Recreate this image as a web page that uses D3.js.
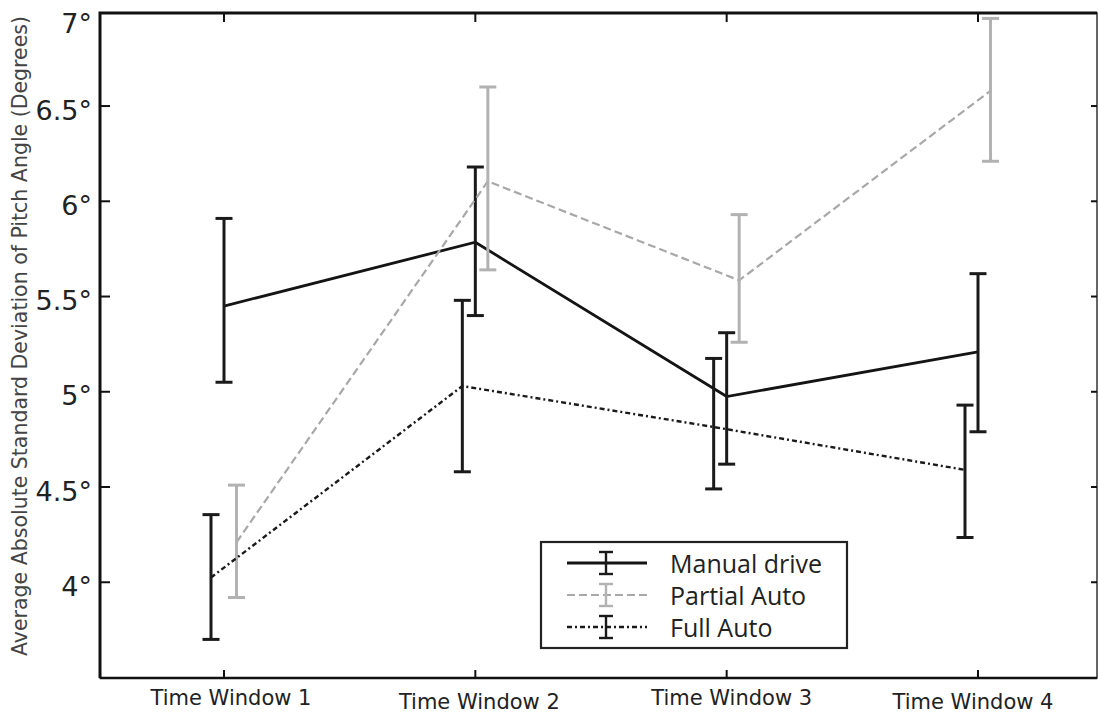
<!DOCTYPE html>
<html>
<head>
<meta charset="utf-8">
<script src="https://cdn.jsdelivr.net/npm/d3@7"></script>
<style>
  body { margin: 0; background: #fff; }
  svg { display: block; }
</style>
</head>
<body>
<div id="chart"></div>
<script>
// DATA
const categories = ["Time Window 1", "Time Window 2", "Time Window 3", "Time Window 4"];
const manualMean = [5.45, 5.785, 4.975, 5.21];
const manualLow = [5.05, 5.40, 4.62, 4.79];
const manualHigh = [5.91, 6.18, 5.31, 5.62];
const partialMean = [4.21, 6.105, 5.585, 6.58];
const partialLow = [3.92, 5.64, 5.26, 6.21];
const partialHigh = [4.51, 6.60, 5.93, 6.96];
const fullMean = [4.025, 5.03, 4.815, 4.59];
const fullLow = [3.70, 4.58, 4.49, 4.235];
const fullHigh = [4.355, 5.48, 5.175, 4.93];
const yTicks = [4, 4.5, 5, 5.5, 6, 6.5, 7];

const W = 1099, H = 713;
const frame = { left: 100, right: 1097, top: 13, bottom: 678 };

const svg = d3.select("#chart").append("svg")
    .attr("width", W)
    .attr("height", H);

const xScale = d3.scaleLinear().domain([1, 4]).range([224, 978]);
const yScale = d3.scaleLinear().domain([3.5, 7]).range([677.5, 10.8]);

const series = [
    { name: "Manual drive", mean: manualMean, low: manualLow, high: manualHigh,
      color: "#141414", bar: "#1a1a1a", width: 2.8, dash: null, shift: 0 },
    { name: "Partial Auto", mean: partialMean, low: partialLow, high: partialHigh,
      color: "#a8a8a8", bar: "#b2b2b2", width: 2.2, dash: "8,4", shift: 12.5 },
    { name: "Full Auto", mean: fullMean, low: fullLow, high: fullHigh,
      color: "#1a1a1a", bar: "#1a1a1a", width: 2.4, dash: "5,3,2,3", shift: -13 }
];

// FRAME
svg.append("rect")
    .attr("x", frame.left).attr("y", frame.top)
    .attr("width", frame.right - frame.left)
    .attr("height", frame.bottom - frame.top)
    .attr("fill", "none")
    .attr("stroke", "#333")
    .attr("stroke-width", 1.5);
svg.append("path")
    .attr("d", `M${frame.left},${frame.bottom}V${frame.top}H${frame.right}`)
    .attr("fill", "none").attr("stroke", "#111").attr("stroke-width", 3);
svg.append("line")
    .attr("x1", frame.left).attr("x2", frame.right)
    .attr("y1", frame.bottom).attr("y2", frame.bottom)
    .attr("stroke", "#111").attr("stroke-width", 2.5);

// TICKS (inside)
const yT = yTicks.filter(v => v < 7);
svg.selectAll(".ytick-l").data(yT).enter().append("line")
    .attr("x1", frame.left).attr("x2", frame.left + 10)
    .attr("y1", d => yScale(d)).attr("y2", d => yScale(d))
    .attr("stroke", "#111").attr("stroke-width", 2);
svg.selectAll(".ytick-r").data(yT).enter().append("line")
    .attr("x1", frame.right).attr("x2", frame.right - 6)
    .attr("y1", d => yScale(d)).attr("y2", d => yScale(d))
    .attr("stroke", "#111").attr("stroke-width", 2);
svg.selectAll(".xtick-b").data(categories).enter().append("line")
    .attr("x1", (d, i) => xScale(i + 1)).attr("x2", (d, i) => xScale(i + 1))
    .attr("y1", frame.bottom).attr("y2", frame.bottom - 8)
    .attr("stroke", "#111").attr("stroke-width", 2);
svg.selectAll(".xtick-t").data(categories).enter().append("line")
    .attr("x1", (d, i) => xScale(i + 1)).attr("x2", (d, i) => xScale(i + 1))
    .attr("y1", frame.top).attr("y2", frame.top + 9)
    .attr("stroke", "#111").attr("stroke-width", 2);

// TICK LABELS
svg.selectAll(".ylabel").data(yTicks).enter().append("text")
    .attr("x", 92)
    .attr("y", d => Math.max(yScale(d) + 4, 23))
    .attr("dominant-baseline", "central")
    .attr("text-anchor", "end")
    .attr("font-family", "DejaVu Sans")
    .attr("font-size", "27px")
    .attr("fill", "#222")
    .text(d => d + "°");

svg.selectAll(".xlabel").data(categories).enter().append("text")
    .attr("x", (d, i) => xScale(i + 1) + [7, 4, 5, -5][i])
    .attr("y", (d, i) => i % 2 === 0 ? 705 : 709)
    .attr("text-anchor", "middle")
    .attr("font-family", "DejaVu Sans")
    .attr("font-size", "21px")
    .attr("fill", "#222")
    .text(d => d);

svg.append("text")
    .attr("transform", "rotate(-90)")
    .attr("x", -336)
    .attr("y", 27)
    .attr("text-anchor", "middle")
    .attr("font-family", "DejaVu Sans")
    .attr("font-size", "20.5px")
    .attr("fill", "#444")
    .text("Average Absolute Standard Deviation of Pitch Angle (Degrees)");

// LINES + ERROR BARS
const line = d3.line();
series.forEach(s => {
    const pts = s.mean.map((v, i) => [xScale(i + 1) + s.shift, yScale(v)]);
    svg.append("path")
        .attr("d", line(pts))
        .attr("fill", "none")
        .attr("stroke", s.color)
        .attr("stroke-width", s.width)
        .attr("stroke-dasharray", s.dash);

    const g = svg.append("g");
    s.mean.forEach((v, i) => {
        const x = xScale(i + 1) + s.shift;
        const y1 = yScale(s.low[i]), y2 = yScale(s.high[i]);
        g.append("line").attr("x1", x).attr("x2", x).attr("y1", y1).attr("y2", y2)
            .attr("stroke", s.bar).attr("stroke-width", 3);
        [y1, y2].forEach(y => {
            g.append("line").attr("x1", x - 8.5).attr("x2", x + 8.5).attr("y1", y).attr("y2", y)
                .attr("stroke", s.bar).attr("stroke-width", 3);
        });
    });
});

// LEGEND
const legend = svg.append("g").attr("transform", "translate(541,542)");
legend.append("rect")
    .attr("width", 306).attr("height", 106)
    .attr("fill", "#fff")
    .attr("stroke", "#222")
    .attr("stroke-width", 2.2);

series.forEach((s, i) => {
    const cy = 21 + i * 32;
    const row = legend.append("g").attr("transform", `translate(0,${cy})`);
    row.append("line").attr("x1", 26).attr("x2", 106).attr("y1", 0).attr("y2", 0)
        .attr("stroke", s.color).attr("stroke-width", s.width)
        .attr("stroke-dasharray", s.dash);
    row.append("line").attr("x1", 65).attr("x2", 65).attr("y1", -11).attr("y2", 11)
        .attr("stroke", s.bar).attr("stroke-width", 2.4);
    [-11, 11].forEach(y => {
        row.append("line").attr("x1", 58).attr("x2", 72).attr("y1", y).attr("y2", y)
            .attr("stroke", s.bar).attr("stroke-width", 2.4);
    });
    row.append("text")
        .attr("x", 129).attr("y", 0)
        .attr("dominant-baseline", "central")
        .attr("font-family", "Open Sans")
        .attr("font-size", "25px")
        .attr("fill", "#222")
        .text(s.name);
});
</script>
</body>
</html>
